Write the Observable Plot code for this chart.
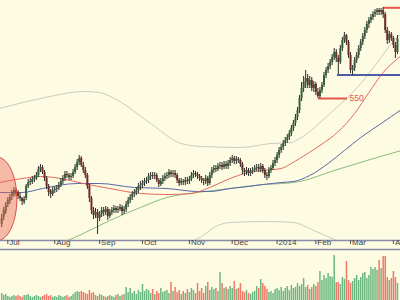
<!DOCTYPE html>
<html><head><meta charset="utf-8">
<script src="https://cdn.jsdelivr.net/npm/d3@7"></script>
<script src="https://cdn.jsdelivr.net/npm/@observablehq/plot@0.6"></script>
<style>
html,body{margin:0;padding:0;background:#fdfbe2;}
#wrap{position:relative;width:400px;height:300px;overflow:hidden;background:#fdfbe2;}
#price,#vol{position:absolute;left:0;}
#price{top:0;} #vol{top:250px;}
</style></head><body><div id="wrap"><div id="price"></div><div id="vol"></div></div>
<script>
// Daily candles (trading-day index 0..194)
const opens=[424,431,437,444,447,452,454,458,456,452,
450,446,450,462,466,466,469,470,473,479,
481,476,470,462,457,454,458,459,460,463,
467,470,474,473,471,472,476,481,486,490,
483,478,473,462,450,438,433,436,430,434,
438,436,439,432,436,438,440,438,439,441,
437,439,444,448,451,454,456,458,462,463,
465,467,468,472,473,472,473,468,464,467,
470,472,473,476,474,475,473,468,465,467,
466,468,467,469,473,475,474,472,470,468,
467,470,465,473,478,480,479,482,483,481,
484,482,485,488,490,487,489,488,484,478,
476,478,475,477,478,480,481,479,482,478,
473,472,478,480,485,488,493,498,501,505,
508,511,515,520,525,531,538,550,560,566,
570,563,568,560,564,556,552,558,563,573,
578,582,586,591,596,590,586,600,608,613,
606,593,578,580,588,593,600,606,612,618,
624,628,631,634,636,638,636,638,634,618,
608,614,610,603,596];
const highs=[434,441,446,451,454,458,461,460,458,455,
451,452,464,469,470,472,473,476,482,484,
483,478,472,464,459,461,462,463,466,470,
473,477,477,475,475,479,484,489,493,492,
486,481,475,464,452,441,440,439,437,441,
441,442,441,439,441,443,442,442,444,443,
442,447,451,454,457,459,461,465,467,468,
470,471,475,476,476,476,475,470,470,473,
475,476,479,478,478,478,475,470,470,469,
471,471,472,476,478,477,476,474,472,470,
473,472,476,481,483,483,485,486,486,487,
487,488,491,493,492,492,491,490,486,480,
481,480,480,481,483,484,484,485,484,480,
476,481,483,488,491,496,501,504,508,511,
514,518,523,528,534,541,553,566,572,578,
574,572,571,567,566,560,561,566,576,581,
585,589,594,600,599,593,603,611,616,614,
608,596,583,591,596,603,609,615,621,627,
631,634,637,639,640,640,640,641,636,621,
617,616,612,606,613];
const lows=[421,428,434,441,444,448,451,452,449,447,
443,444,448,460,463,464,466,468,471,476,
474,467,459,452,450,452,455,456,458,461,
464,467,470,468,468,470,474,478,483,481,
475,470,459,446,434,429,430,414,427,431,
432,433,428,430,433,435,435,435,437,433,
434,436,441,445,448,451,453,455,458,460,
462,464,465,468,469,469,466,461,462,464,
467,469,470,471,471,470,465,462,463,463,
463,464,464,467,470,471,469,467,465,463,
464,462,463,470,475,476,477,479,478,479,
479,479,482,485,484,484,485,481,474,472,
473,472,472,474,476,477,476,476,475,470,
468,470,475,478,482,485,490,495,498,502,
505,508,512,517,522,528,535,547,556,560,
560,560,557,556,553,550,550,555,561,570,
575,579,583,588,586,574,584,597,605,603,
590,575,573,577,585,590,597,603,609,615,
620,625,628,631,633,633,633,630,615,604,
605,607,600,590,594];
const closes=[430,438,443,448,451,455,458,455,452,450,
447,449,462,466,467,469,470,473,479,481,
476,470,462,456,454,458,459,460,463,467,
470,474,473,471,472,476,481,486,490,483,
478,473,462,450,438,433,436,430,434,438,
436,439,432,436,438,440,438,439,441,437,
439,444,448,451,454,456,458,462,463,465,
467,468,472,473,472,473,468,464,467,470,
472,473,476,474,475,473,468,465,467,466,
468,467,469,473,475,474,472,470,468,467,
470,465,473,478,480,479,482,483,481,484,
482,485,488,490,487,489,488,484,478,476,
478,475,477,478,480,481,479,482,478,473,
472,478,480,485,488,493,498,501,505,508,
511,515,520,525,531,538,550,560,566,570,
563,568,560,564,556,552,558,563,573,578,
582,586,591,596,590,586,600,608,613,606,
593,578,580,588,593,600,606,612,618,624,
628,631,634,636,638,636,638,634,618,608,
614,610,603,596,610];
const volumes=[700,500,600,400,300,400,500,400,500,400,300,500,
500,600,400,300,400,500,400,300,400,500,600,400,500,300,
400,300,500,400,300,400,500,300,400,600,800,
900,800,900,800,700,600,1000,700,
800,500,400,600,500,400,300,400,500,400,300,500,600,400,500,600,
1300,800,1200,700,900,600,1000,800,1600,900,
1100,1000,700,1100,600,900,700,1200,800,900,
1000,700,1800,900,1300,800,1000,600,900,700,
1100,800,1200,1000,700,1700,900,1200,700,1400,
1800,1000,1300,1100,1200,900,2800,1700,1200,1300,
1100,1400,1200,1900,1100,1200,1700,900,800,1000,
700,600,800,900,1400,1200,2100,1700,1400,1100,
800,900,700,1100,1200,1000,1300,900,1200,1400,
1000,1500,1200,1300,1700,1400,1600,2200,1300,1500,
1100,1300,1600,1400,1800,2900,2000,2500,2200,2700,
2400,2300,4500,1800,1800,1600,2300,2100,3900,2000,
1700,1900,2200,2500,2000,2300,2700,2800,2200,2500,
3300,3100,3300,3000,4000,3200,4400,4400,2300,2000,
2200,2900,2300,1700];
// Overlay lines sampled from the chart: [day index, price]
const upperBand=[[-1,540],[19,550],[41,557],[48,556],[57,548],[73,525],[88,505],[98,502],[117,501],[132,505],[142,506],[146,510],[161,535],[176,565],[186,591],[191,605],[196,615]];
const lowerBand=[[93,407],[98,412],[104,421],[112,426],[130,427],[143,426],[153,418],[163,409],[167,405]];
const maRed=[[-1,466],[10,470],[19,472],[29,470],[40,465],[53,460],[68,455],[81,454],[93,455],[97,457],[102,461],[112,470],[119,475],[128,478],[137,480],[142,485],[146,490],[156,503],[165,517],[173,535],[180,556],[187,576],[196,593]];
const maBlue=[[-1,456],[10,456],[20,460],[37,465],[48,465],[65,461],[81,460],[96,457],[102,457],[112,460],[121,462],[128,464],[137,466],[143,467],[151,473],[160,485],[168,498],[176,511],[186,525],[196,539]];
const maGreen=[[26,403],[30,406],[41,416],[53,428],[68,441],[81,451],[96,456],[112,460],[128,464],[138,465],[146,467],[163,478],[179,488],[196,498]];
// Annotations
const levels=[{v:550,k1:155.3,k2:169.5,c:"#e3574a"},{v:573.5,k1:164.6,k2:197,c:"#4e5ca8"},{v:640.7,k1:187.2,k2:197,c:"#e3574a"}];
const levelLabels=[{k:170,v:550,t:"550"}];
const highlight={k1:-11.9,k2:7.7,p1:407,p2:491};
// Month ticks
const monthTicks=[3,26,48,69,92,113,135,154,171,192];
const monthLabels=["Jul","Aug","Sep","Oct","Nov","Dec","2014","Feb","Mar","Apr"];

const bars=closes.map((c,i)=>({i,o:opens[i],h:highs[i],l:lows[i],c}));
const volData=volumes.map((v,i)=>({i,v,up:closes[i]>=opens[i]}));
const xDomain=[-0.588,195.49];
const font="Liberation Sans, Arial, sans-serif";

function ellipseMark(index,scales){
  const x1=scales.x(highlight.k1),x2=scales.x(highlight.k2);
  const y1=scales.y(highlight.p1),y2=scales.y(highlight.p2);
  const g=d3.create("svg:g");
  g.append("ellipse").attr("cx",(x1+x2)/2).attr("cy",(y1+y2)/2)
   .attr("rx",Math.abs(x2-x1)/2).attr("ry",Math.abs(y2-y1)/2)
   .attr("fill","rgba(238,105,92,0.45)").attr("stroke","#d9544a").attr("stroke-width",1);
  return g.node();
}
const lineOpts=(c)=>({x:d=>d[0],y:d=>d[1],stroke:c,strokeWidth:1,curve:"monotone-x",clip:true});

const price=Plot.plot({
  width:400,height:250,marginTop:0,marginRight:0,marginBottom:10,marginLeft:0,
  style:{background:"transparent",fontFamily:font,overflow:"visible"},
  x:{domain:xDomain,axis:null},
  y:{domain:[408,648],axis:null},
  color:{type:"identity"},
  marks:[
    Plot.line(upperBand,lineOpts("#cbcbbf")),
    Plot.line(lowerBand,lineOpts("#cbcbbf")),
    Plot.line(maGreen,lineOpts("#8cbb7c")),
    Plot.line(maBlue,lineOpts("#5b66a8")),
    Plot.line(maRed,lineOpts("#e36a5c")),
    Plot.ruleY(levels,{y:"v",x1:"k1",x2:"k2",stroke:"c",strokeWidth:2,clip:true}),
    Plot.text(levelLabels,{x:"k",y:"v",text:"t",textAnchor:"start",fill:"#e3574a",fontSize:8.5,dx:1}),
    Plot.ruleX(bars,{x:"i",y1:"l",y2:"h",stroke:"#2b2b2b",strokeWidth:1,clip:true}),
    Plot.ruleX(bars,{x:"i",y1:"o",y2:"c",stroke:d=>d.c>=d.o?"#35603a":"#6e2b28",strokeWidth:2,clip:true}),
    ellipseMark,
    Plot.ruleY([408],{stroke:"#8d8ca8",strokeWidth:1.5}),
    Plot.ruleY([399],{stroke:"#8d8ca8",strokeWidth:1.5}),
    Plot.ruleX(monthTicks,{x:d=>d,y1:408,y2:404,stroke:"#555"}),
    Plot.text(monthTicks,{x:d=>d,text:(d,i)=>monthLabels[i],frameAnchor:"bottom",dy:4.5,dx:1.5,textAnchor:"start",fontSize:8,fill:"#444"})
  ]
});
document.getElementById("price").appendChild(price);

const vol=Plot.plot({
  width:400,height:50,margin:0,
  style:{background:"transparent"},
  x:{domain:xDomain,axis:null},
  y:{domain:[0,5000],axis:null},
  color:{type:"identity"},
  marks:[
    Plot.ruleX(volData,{x:"i",y1:0,y2:"v",stroke:d=>d.up?"#6cb882":"#ef7868",strokeWidth:1.5})
  ]
});
document.getElementById("vol").appendChild(vol);
</script></body></html>
